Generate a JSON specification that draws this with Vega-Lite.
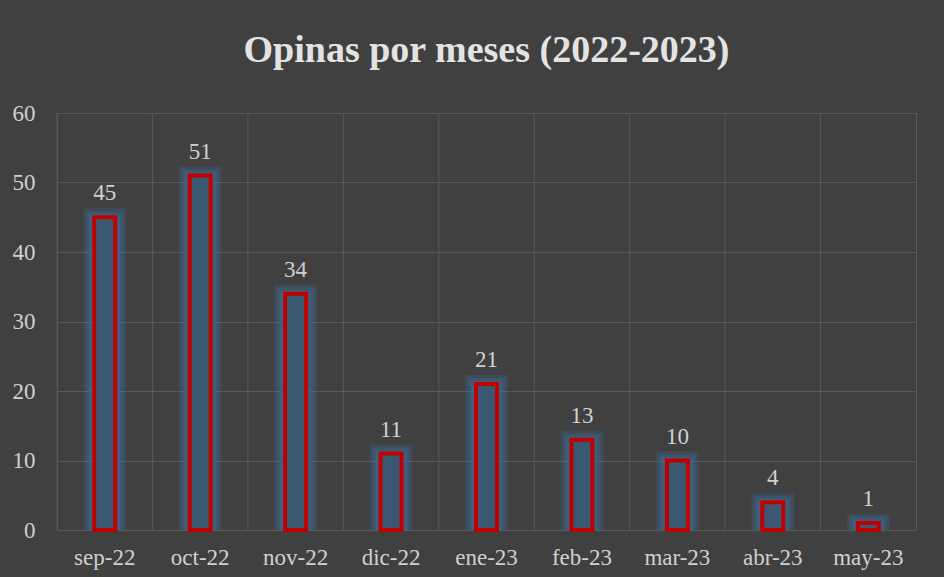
{
  "$schema": "https://vega.github.io/schema/vega-lite/v6.json",
  "width": 859,
  "height": 417,
  "autosize": {"type": "none"},
  "padding": {"left": 57, "top": 113, "right": 28, "bottom": 47},
  "background": "#404040",
  "config": {"view": {"stroke": "#595959", "strokeWidth": 1}},
  "title": {
    "text": "Opinas por meses (2022-2023)",
    "font": "Liberation Serif",
    "fontSize": 38,
    "fontWeight": "bold",
    "color": "#e3e3e3",
    "anchor": "middle",
    "baseline": "alphabetic",
    "offset": 2
  },
  "data": {
    "values": [
      {"mes": "sep-22", "n": 45},
      {"mes": "oct-22", "n": 51},
      {"mes": "nov-22", "n": 34},
      {"mes": "dic-22", "n": 11},
      {"mes": "ene-23", "n": 21},
      {"mes": "feb-23", "n": 13},
      {"mes": "mar-23", "n": 10},
      {"mes": "abr-23", "n": 4},
      {"mes": "may-23", "n": 1}
    ]
  },
  "encoding": {
    "x": {
      "field": "mes",
      "type": "nominal",
      "sort": null,
      "scale": {"paddingInner": 0, "paddingOuter": 0},
      "axis": {
        "title": null,
        "labelAngle": 0,
        "domain": false,
        "ticks": false,
        "grid": false,
        "labelFont": "Liberation Serif",
        "labelFontSize": 23,
        "labelColor": "#d0d0d0",
        "labelPadding": 16
      }
    }
  },
  "layer": [
    {
      "mark": {"type": "rule", "color": "#595959", "strokeWidth": 1},
      "encoding": {
        "x": {"field": "mes", "type": "nominal", "sort": null, "bandPosition": 0}
      }
    },
    {
      "mark": {"type": "bar", "width": 43, "yOffset": -9, "color": "#3d74a3", "opacity": 0.22},
      "encoding": {
        "y": {
          "field": "n",
          "type": "quantitative",
          "stack": null,
          "scale": {"domain": [0, 60]},
          "axis": {
            "title": null,
            "values": [0, 10, 20, 30, 40, 50, 60],
            "grid": true,
            "gridColor": "#595959",
            "domain": false,
            "ticks": false,
            "labelFont": "Liberation Serif",
            "labelFontSize": 23,
            "labelColor": "#d0d0d0",
            "labelPadding": 22
          }
        }
      }
    },
    {
      "mark": {"type": "bar", "width": 37, "yOffset": -6, "color": "#3d74a3", "opacity": 0.28},
      "encoding": {"y": {"field": "n", "type": "quantitative", "stack": null}}
    },
    {
      "mark": {"type": "bar", "width": 31, "yOffset": -3, "color": "#3d74a3", "opacity": 0.35},
      "encoding": {"y": {"field": "n", "type": "quantitative", "stack": null}}
    },
    {
      "mark": {"type": "bar", "width": 21, "fill": "#3b5872", "stroke": "#c00000", "strokeWidth": 4},
      "encoding": {"y": {"field": "n", "type": "quantitative", "stack": null}}
    },
    {
      "mark": {
        "type": "text",
        "dy": -17,
        "baseline": "alphabetic",
        "font": "Liberation Serif",
        "fontSize": 23,
        "color": "#d0d0d0"
      },
      "encoding": {
        "y": {"field": "n", "type": "quantitative", "stack": null},
        "text": {"field": "n", "type": "quantitative"}
      }
    }
  ]
}
